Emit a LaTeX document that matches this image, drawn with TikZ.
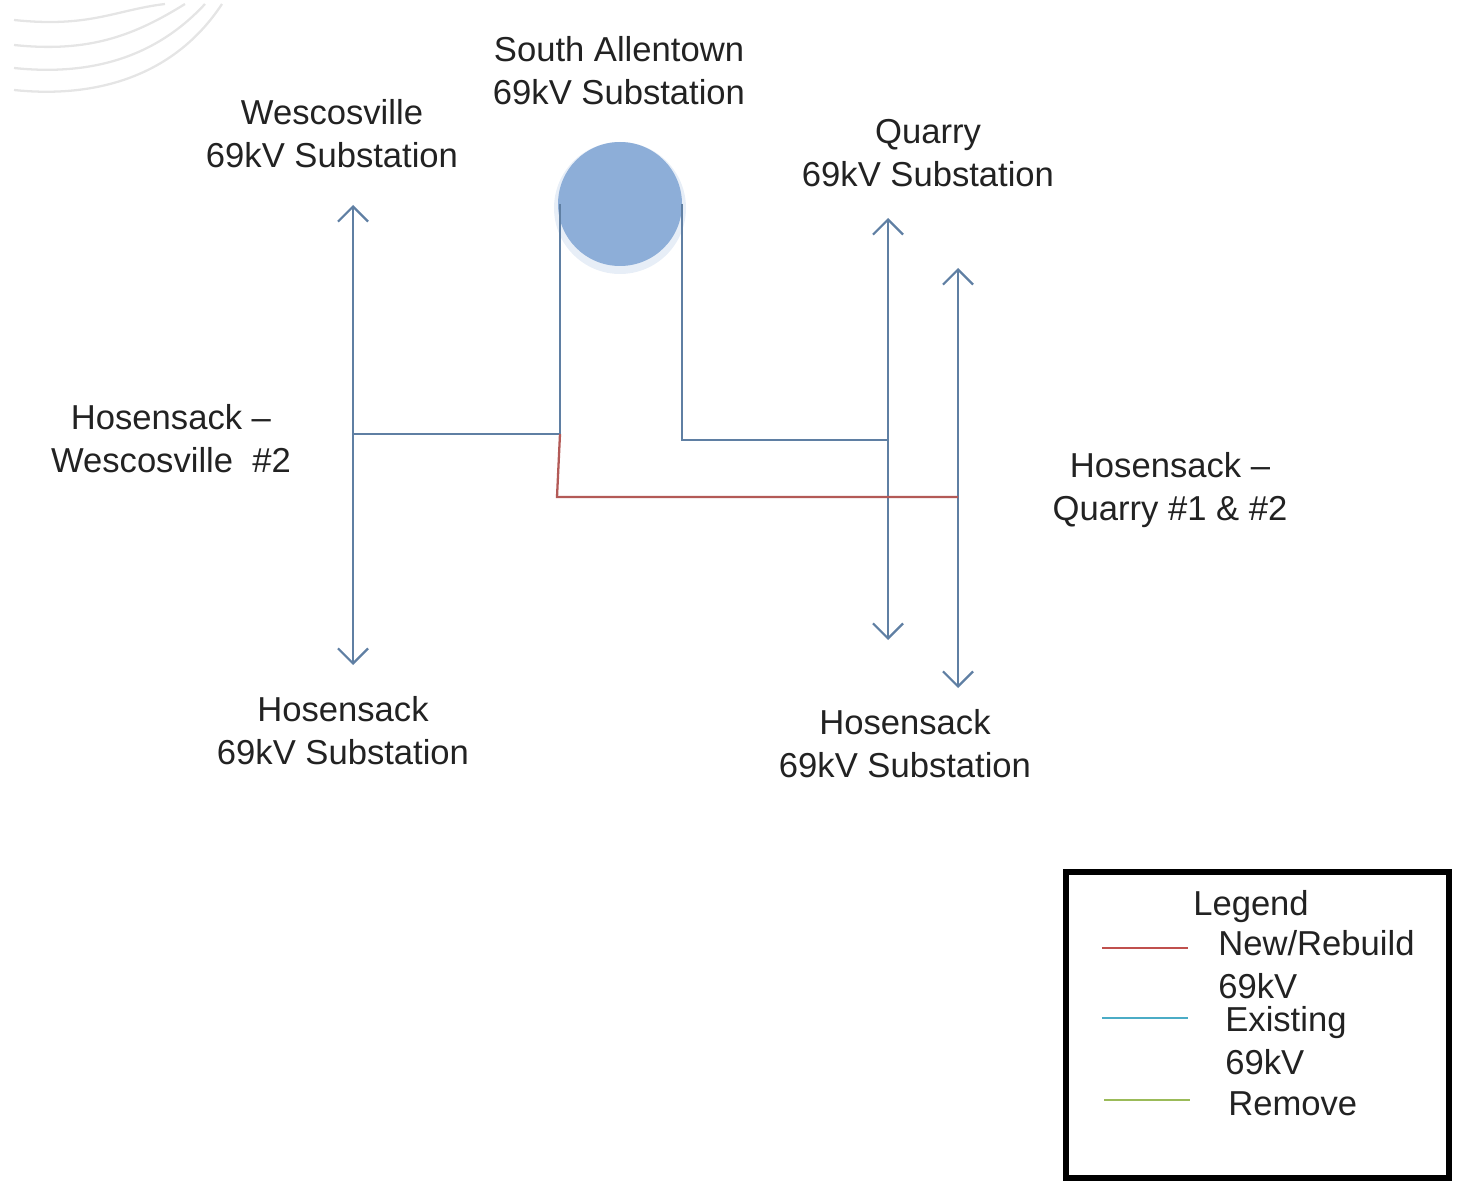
\documentclass[tikz,border=0pt]{standalone}
\usepackage{fontspec}
\setmainfont{Liberation Sans}
\usetikzlibrary{arrows.meta}
\definecolor{lineblue}{HTML}{5F7FA3}
\definecolor{subblue}{HTML}{8DAED8}
\definecolor{keyred}{HTML}{C0504D}
\definecolor{keyblue}{HTML}{4BACC6}
\definecolor{keygreen}{HTML}{9BBB59}
\definecolor{txt}{HTML}{222222}

\begin{document}
\begin{tikzpicture}[x=0.02cm,y=-0.02cm,
    lbl/.style={align=center,text=txt,font=\fontsize{19.7}{24.5}\selectfont},
    keytxt/.style={align=left,anchor=west,text=txt,inner sep=0pt,font=\fontsize{19.7}{24.5}\selectfont},
    feed/.style={draw=lineblue,line width=1.3pt},
    tips/.style={{Straight Barb[length=0.3cm,width=0.6cm]}-{Straight Barb[length=0.3cm,width=0.6cm]}}]
      \useasboundingbox (0,0) rectangle (1460,1182);
      % faint logo arcs
      \foreach \y/\x in {20/165,45/185,68/205,90/222}
        \draw[gray!20,line width=1.3pt] (14,\y) .. controls (90,\y+8) and (\x-50,\y-10) .. (\x,4);
      % substations
      \node[lbl] (wes) at (332,134) {Wescosville\\69kV Substation};
      \node[lbl] (sat) at (619,71) {South Allentown\\69kV Substation};
      \node[lbl] (qry) at (928,153) {Quarry\\69kV Substation};
      \node[lbl] (hosL) at (343,731) {Hosensack\\69kV Substation};
      \node[lbl] (hosR) at (905,744) {Hosensack\\69kV Substation};
      \node[lbl] (hw) at (171,439) {Hosensack --\\Wescosville\ \ \#2};
      \node[lbl] (hq) at (1170,490) {Hosensack --\\Quarry \#1 \& \#2};
      \fill[subblue!60,opacity=0.35] (620,208) circle (66);
      \node[circle,fill=subblue,minimum size=124*0.02cm,inner sep=0pt] (sa) at (620,204) {};
      % line ends
      \coordinate (wesT) at (353,205);
      \coordinate (wesB) at (353,665);
      \coordinate (wesJ) at (353,434);
      \coordinate (saLJ) at (560,434);
      \coordinate (saRJ) at (682,440);
      \coordinate (qT) at (888,218);
      \coordinate (qB) at (888,640);
      \coordinate (qJ) at (888,440);
      \coordinate (q2T) at (958,268);
      \coordinate (q2B) at (958,688);
      \coordinate (q2J) at (958,497);
      \coordinate (redC) at (557,497);
      \draw[feed,tips] (wesT) -- (wesB);
      \draw[feed,tips] (qT) -- (qB);
      \draw[feed,tips] (q2T) -- (q2B);
      \draw[feed] (sa.center -| saLJ) -- (saLJ) -- (wesJ);
      \draw[feed] (sa.center -| saRJ) -- (saRJ) -- (qJ);
      \draw[keyred!80!gray,line width=1.3pt] (saLJ) -- (redC) -- (q2J);
      % legend
      \draw[line width=3.4pt] (1066,872) rectangle (1449,1178);
      \node[lbl] (leg) at (1251,907) {Legend};
      \coordinate (kr1) at (1102,948);
      \coordinate (kr2) at (1188,948);
      \coordinate (kb1) at (1102,1018);
      \coordinate (kb2) at (1188,1018);
      \coordinate (kg1) at (1104,1100);
      \coordinate (kg2) at (1190,1100);
      \draw[keyred,line width=1.3pt] (kr1) -- (kr2);
      \draw[keyblue,line width=1.3pt] (kb1) -- (kb2);
      \draw[keygreen,line width=1.3pt] (kg1) -- (kg2);
      \node[keytxt] (knew) at (1218,965) {New/Rebuild\\69kV};
      \node[keytxt] (kold) at (1225,1041) {Existing\\69kV};
      \node[keytxt] (krem) at (1228,1104) {Remove};
\end{tikzpicture}
\end{document}
